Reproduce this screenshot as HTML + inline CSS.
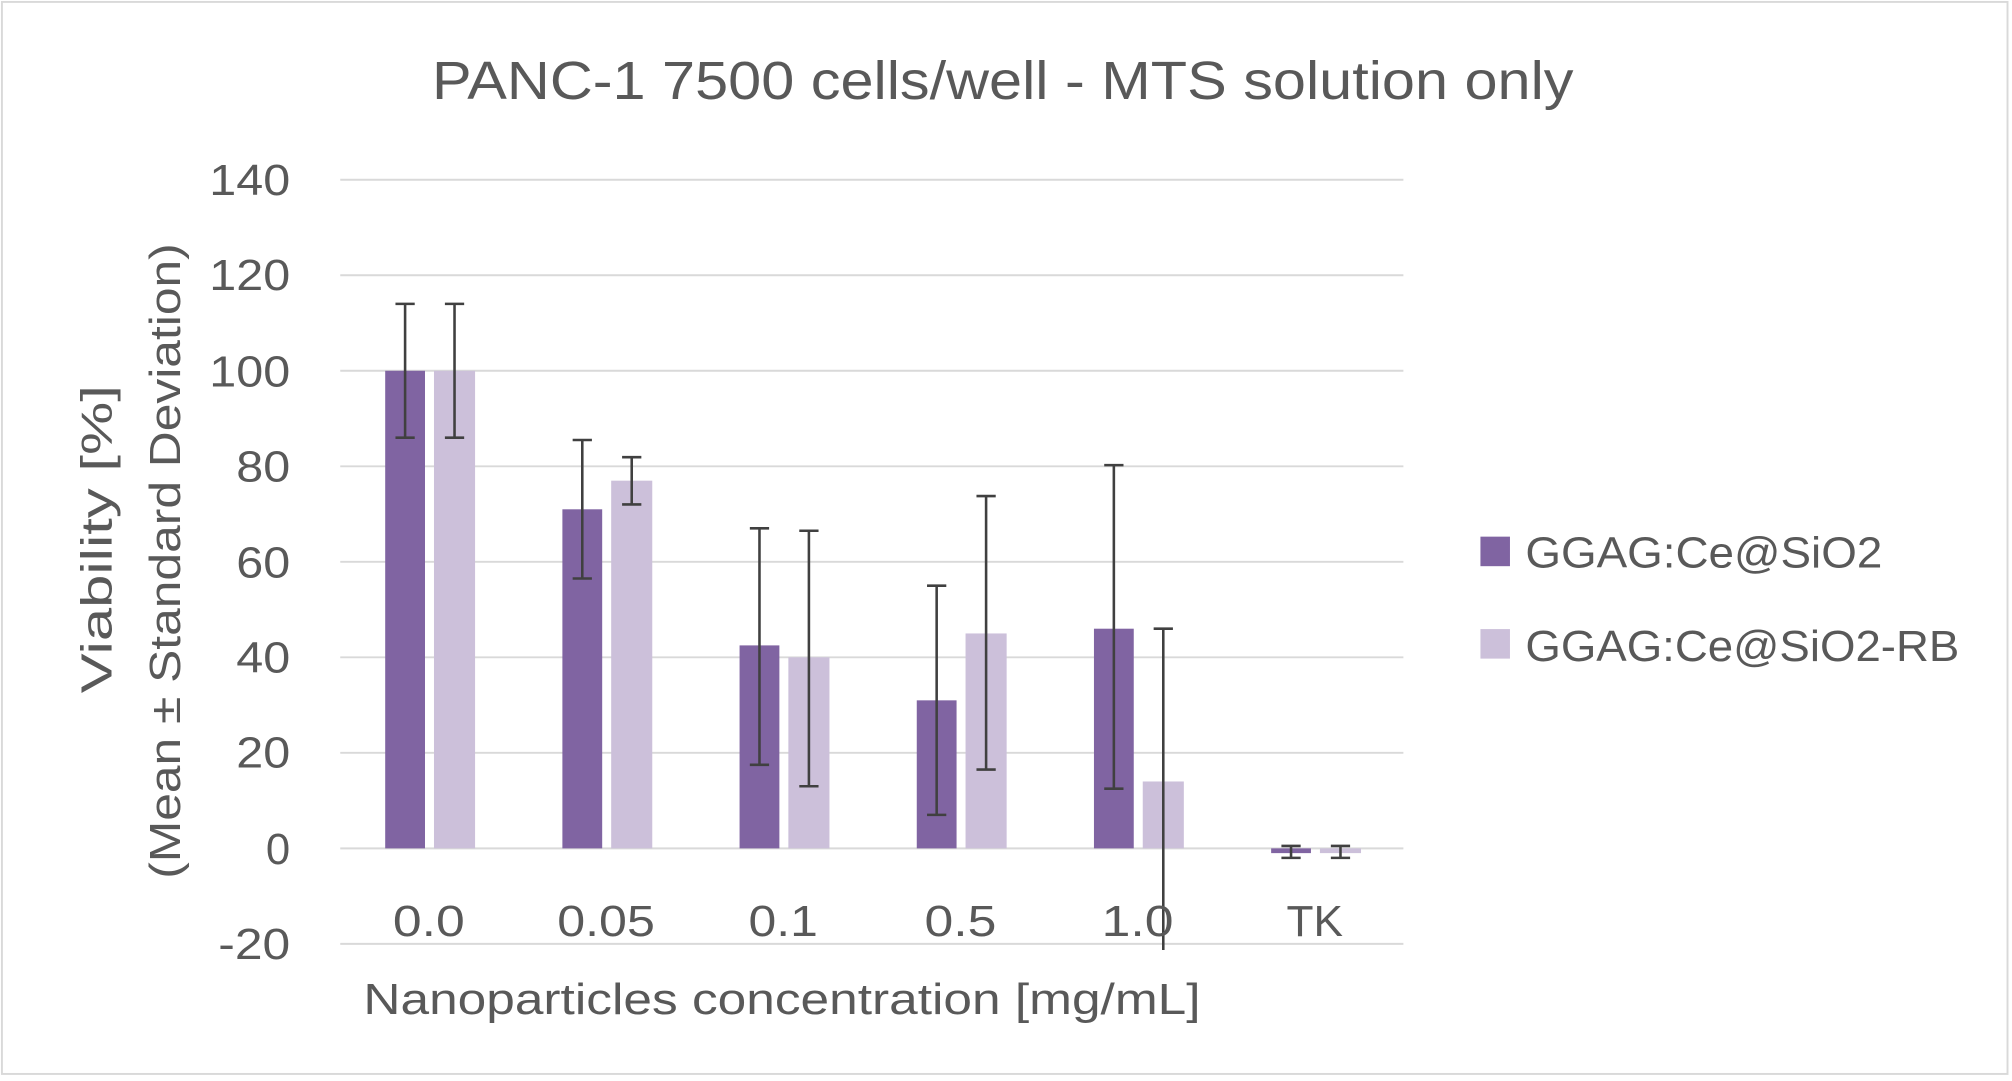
<!DOCTYPE html>
<html><head><meta charset="utf-8"><style>html,body{margin:0;padding:0;background:#fff}svg{display:block}</style></head>
<body>
<svg width="2012" height="1081" viewBox="0 0 1567 842" preserveAspectRatio="none" xmlns="http://www.w3.org/2000/svg" font-family="Liberation Sans, sans-serif" fill="#595959">
<rect x="1.5" y="1.5" width="1562" height="835" fill="#fff" stroke="#d9d9d9" stroke-width="1.5"/>
<text x="781" y="77" font-size="42" text-anchor="middle" textLength="889" lengthAdjust="spacingAndGlyphs">PANC-1 7500 cells/well - MTS solution only</text>
<g stroke="#d9d9d9" stroke-width="1.5">
<line x1="265" x2="1093" y1="140" y2="140"/><line x1="265" x2="1093" y1="214.4" y2="214.4"/>
<line x1="265" x2="1093" y1="288.8" y2="288.8"/><line x1="265" x2="1093" y1="363.2" y2="363.2"/>
<line x1="265" x2="1093" y1="437.6" y2="437.6"/><line x1="265" x2="1093" y1="512" y2="512"/>
<line x1="265" x2="1093" y1="586.4" y2="586.4"/><line x1="265" x2="1093" y1="660.8" y2="660.8"/>
<line x1="265" x2="1093" y1="735.2" y2="735.2"/>
</g>
<g font-size="34" text-anchor="end">
<text x="226" y="152" textLength="63" lengthAdjust="spacingAndGlyphs">140</text><text x="226" y="226" textLength="63" lengthAdjust="spacingAndGlyphs">120</text><text x="226" y="301" textLength="63" lengthAdjust="spacingAndGlyphs">100</text>
<text x="226" y="375" textLength="42" lengthAdjust="spacingAndGlyphs">80</text><text x="226" y="450" textLength="42" lengthAdjust="spacingAndGlyphs">60</text><text x="226" y="524" textLength="42" lengthAdjust="spacingAndGlyphs">40</text>
<text x="226" y="598" textLength="42" lengthAdjust="spacingAndGlyphs">20</text><text x="226" y="673">0</text><text x="226" y="747" textLength="56" lengthAdjust="spacingAndGlyphs">-20</text>
</g>
<g fill="#8064a2">
<rect x="300" y="288.8" width="31" height="372"/>
<rect x="438" y="396.7" width="31" height="264.1"/>
<rect x="576" y="502.7" width="31" height="158.1"/>
<rect x="714" y="545.5" width="31" height="115.3"/>
<rect x="852" y="489.7" width="31" height="171.1"/>
<rect x="990" y="660.8" width="31" height="3.7"/>
</g>
<g fill="#ccc0da">
<rect x="338" y="288.8" width="32" height="372"/>
<rect x="476" y="374.4" width="32" height="286.4"/>
<rect x="614" y="512" width="32" height="148.8"/>
<rect x="752" y="493.4" width="32" height="167.4"/>
<rect x="890" y="608.7" width="32" height="52.1"/>
<rect x="1028" y="660.8" width="32" height="3.7"/>
</g>
<g stroke="#404040" stroke-width="2" fill="none">
<path d="M315.5 236.7V340.9M308 236.7h15M308 340.9h15"/>
<path d="M354 236.7V340.9M346.5 236.7h15M346.5 340.9h15"/>
<path d="M453.5 342.7V450.6M446 342.7h15M446 450.6h15"/>
<path d="M492 356.1V392.9M484.5 356.1h15M484.5 392.9h15"/>
<path d="M591.5 411.5V595.7M584 411.5h15M584 595.7h15"/>
<path d="M630 413.4V612.4M622.5 413.4h15M622.5 612.4h15"/>
<path d="M729.5 456.2V634.7M722 456.2h15M722 634.7h15"/>
<path d="M768 386.4V599.4M760.5 386.4h15M760.5 599.4h15"/>
<path d="M867.5 362.3V614.3M860 362.3h15M860 614.3h15"/>
<path d="M906 489.7V740M898.5 489.7h15"/>
<path d="M1005.5 658.9V668.2M998 658.9h15M998 668.2h15"/>
<path d="M1044 658.9V668.2M1036.5 658.9h15M1036.5 668.2h15"/>
</g>
<g font-size="34" text-anchor="middle">
<text x="334" y="729" textLength="56" lengthAdjust="spacingAndGlyphs">0.0</text><text x="472" y="729" textLength="76" lengthAdjust="spacingAndGlyphs">0.05</text><text x="610" y="729" textLength="54" lengthAdjust="spacingAndGlyphs">0.1</text>
<text x="748" y="729" textLength="56" lengthAdjust="spacingAndGlyphs">0.5</text><text x="886" y="729" textLength="56" lengthAdjust="spacingAndGlyphs">1.0</text><text x="1024" y="729" textLength="44" lengthAdjust="spacingAndGlyphs">TK</text>
<text x="609" y="790" textLength="652" lengthAdjust="spacingAndGlyphs">Nanoparticles concentration [mg/mL]</text>
</g>
<g font-size="34" text-anchor="middle">
<text transform="translate(87,420) rotate(-90)" textLength="240" lengthAdjust="spacingAndGlyphs">Viability [%]</text>
<text transform="translate(140,437) rotate(-90)" textLength="495" lengthAdjust="spacingAndGlyphs">(Mean ± Standard Deviation)</text>
</g>
<rect x="1153" y="418" width="23" height="23" fill="#8064a2"/>
<text x="1188" y="442" font-size="34" textLength="278" lengthAdjust="spacingAndGlyphs">GGAG:Ce@SiO2</text>
<rect x="1153" y="490" width="23" height="23" fill="#ccc0da"/>
<text x="1188" y="515" font-size="34" textLength="338" lengthAdjust="spacingAndGlyphs">GGAG:Ce@SiO2-RB</text>
</svg>
</body></html>
